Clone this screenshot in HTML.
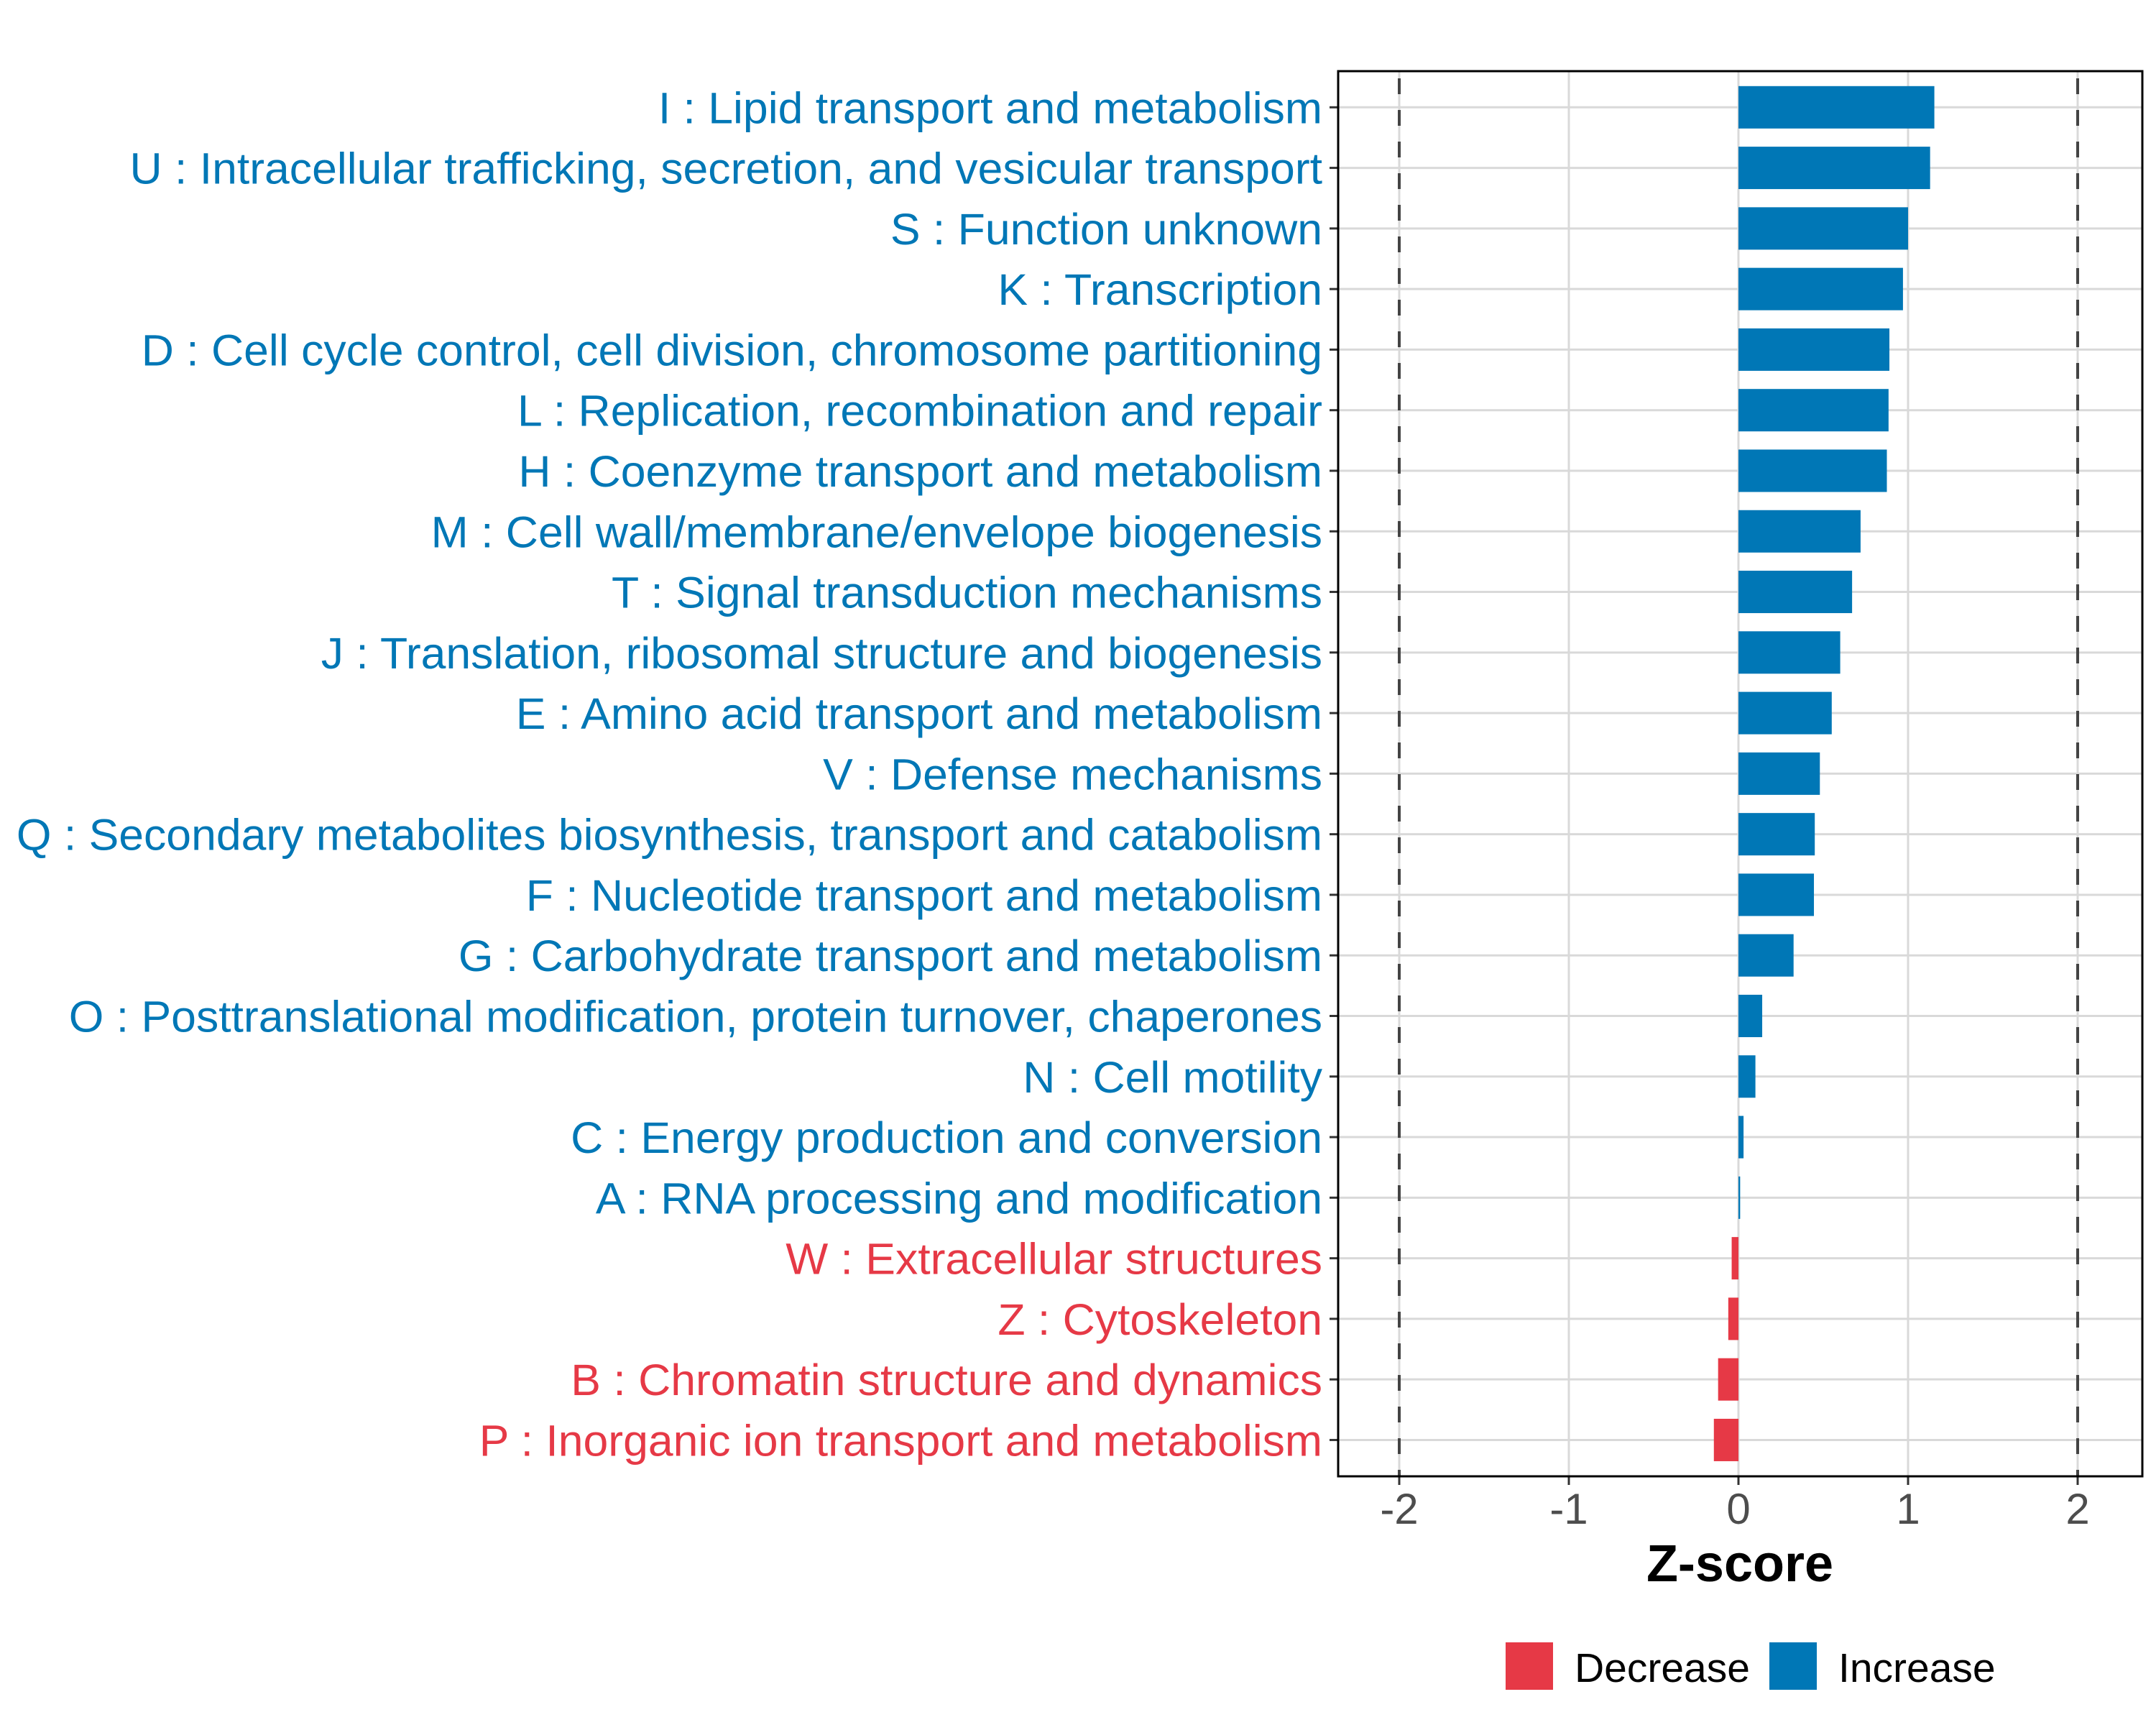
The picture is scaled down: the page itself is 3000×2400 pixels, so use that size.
<!DOCTYPE html>
<html><head><meta charset="utf-8"><style>
html,body{margin:0;padding:0;background:#fff;}
svg{display:block;font-family:"Liberation Sans",Arial,sans-serif;}
</style></head><body>
<svg id="chart" width="3000" height="2400" viewBox="0 0 3000 2400" xmlns="http://www.w3.org/2000/svg">
<rect x="0" y="0" width="3000" height="2400" fill="#fff"/>
<g id="grid"></g><g id="bars"></g><g id="ylabels"></g><g id="xaxis"></g>
<rect x="1862" y="99" width="1119" height="1955" fill="none" stroke="#000" stroke-width="3"/>
<text x="2421" y="2200" text-anchor="middle" font-size="72" font-weight="bold" fill="#000">Z-score</text>
<g>
<rect x="2095" y="2285" width="66" height="66" fill="#E63946"/>
<text x="2191" y="2340" font-size="57" fill="#000">Decrease</text>
<rect x="2462" y="2285" width="66" height="66" fill="#0077B6"/>
<text x="2558" y="2340" font-size="57" fill="#000">Increase</text>
</g>
</svg>
<script>
const categories = ["I : Lipid transport and metabolism","U : Intracellular trafficking, secretion, and vesicular transport","S : Function unknown","K : Transcription","D : Cell cycle control, cell division, chromosome partitioning","L : Replication, recombination and repair","H : Coenzyme transport and metabolism","M : Cell wall/membrane/envelope biogenesis","T : Signal transduction mechanisms","J : Translation, ribosomal structure and biogenesis","E : Amino acid transport and metabolism","V : Defense mechanisms","Q : Secondary metabolites biosynthesis, transport and catabolism","F : Nucleotide transport and metabolism","G : Carbohydrate transport and metabolism","O : Posttranslational modification, protein turnover, chaperones","N : Cell motility","C : Energy production and conversion","A : RNA processing and modification","W : Extracellular structures","Z : Cytoskeleton","B : Chromatin structure and dynamics","P : Inorganic ion transport and metabolism"];
const zscores = [1.155,1.13,1.0,0.97,0.89,0.885,0.875,0.72,0.67,0.6,0.55,0.48,0.45,0.445,0.325,0.14,0.1,0.03,0.01,-0.04,-0.06,-0.12,-0.145];
const xTicks = [-2,-1,0,1,2];
const thresholds = [-2,2];
const NS="http://www.w3.org/2000/svg";
const X0=2419, UNIT=236, ROW0=149.3, STEP=84.28, BARH=59;
const PT=99, PB=2054, PL=1862, PR=2981;
function xs(v){return X0+v*UNIT;}
function ys(i){return ROW0+i*STEP;}
function mk(tag,attrs,parent){const e=document.createElementNS(NS,tag);for(const k in attrs)e.setAttribute(k,attrs[k]);parent.appendChild(e);return e;}
const grid=document.getElementById('grid'),bars=document.getElementById('bars'),yl=document.getElementById('ylabels'),xa=document.getElementById('xaxis');
xTicks.forEach(t=>{
  const l=mk('line',{x1:xs(t),x2:xs(t),y1:PT,y2:PB,stroke:'#D9D9D9','stroke-width':3},grid);
  
  
  const tk=mk('line',{x1:xs(t),x2:xs(t),y1:PB,y2:PB+12,stroke:'#333','stroke-width':3},xa);
  
  
  const tx=mk('text',{x:xs(t),y:2120,'text-anchor':'middle','font-size':60,fill:'#4D4D4D'},xa);
  tx.textContent=t;
  
  
});
categories.forEach((c,i)=>{
  const y=ys(i);
  const g=mk('line',{x1:PL,x2:PR,y1:y,y2:y,stroke:'#D9D9D9','stroke-width':3},grid);
  
  
  const v=zscores[i], col=v<0?'#E63946':'#0077B6';
  const r=mk('rect',{x:Math.min(xs(0),xs(v)),y:y-BARH/2,width:Math.max(Math.abs(xs(v)-xs(0)),1.5),height:BARH,fill:col},bars);
  
  
  const tk=mk('line',{x1:PL-12,x2:PL,y1:y,y2:y,stroke:'#333','stroke-width':3},yl);
  
  
  const t=mk('text',{x:1840,y:y+22,'text-anchor':'end','font-size':61,fill:col,transform:'translate(1840 0) scale(1.025 1) translate(-1840 0)'},yl);
  t.textContent=c;
  
  
});
thresholds.forEach(t=>{
  const d=mk('line',{x1:xs(t),x2:xs(t),y1:PT,y2:PB,stroke:'#444','stroke-width':4,'stroke-dasharray':'22 22','stroke-dashoffset':'-10'},bars);
  
  
});
</script>
</body></html>
